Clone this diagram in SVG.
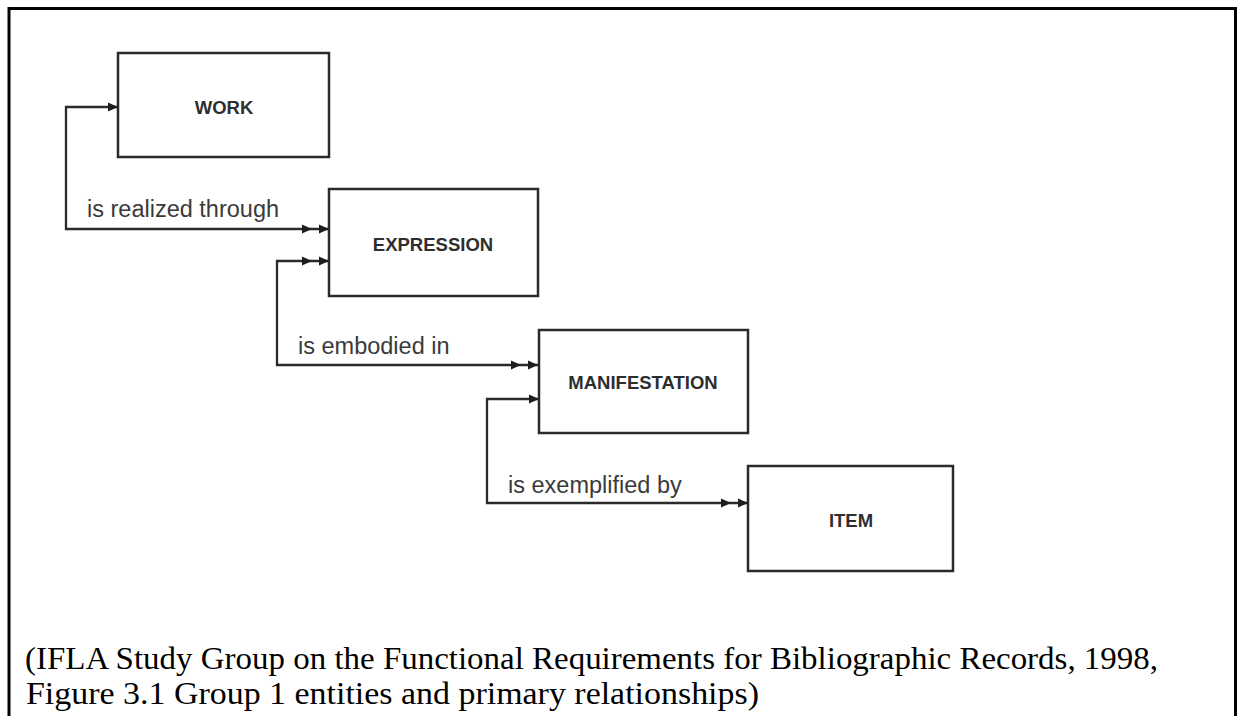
<svg xmlns="http://www.w3.org/2000/svg" xmlns:xlink="http://www.w3.org/1999/xlink" width="1237" height="716" viewBox="0 0 1237 716">
<style>
.box{fill:#fff;stroke:#2a2a2a;stroke-width:2.5}
.lbl{font-family:"Liberation Sans",Arial,sans-serif;font-weight:bold;font-size:18.5px;fill:#2e2e2e;text-anchor:middle;dominant-baseline:central}
.rel{font-family:"Liberation Sans",Arial,sans-serif;font-size:23.5px;fill:#3a3a3a}
.conn{fill:none;stroke:#2a2a2a;stroke-width:2.3}
.cap{font-family:"Liberation Serif","Times New Roman",serif;font-size:32px;fill:#000}
</style>
<defs>
<path id="ah" d="M0,0 L-10,-4.5 L-10,4.5 Z" fill="#1e1e1e"/>
</defs>
<rect width="1237" height="716" fill="#fff"/>
<path d="M9,716 V8.5 H1235.5 V716" fill="none" stroke="#000" stroke-width="3"/>
<g id="connectors">
<path class="conn" d="M118,107 H66 V229 H329"/>
<path class="conn" d="M329,261 H277 V365 H538"/>
<path class="conn" d="M539,399 H487 V503 H748"/>
<use xlink:href="#ah" x="118" y="107"/>
<use xlink:href="#ah" x="329" y="229"/>
<use xlink:href="#ah" x="312" y="229"/>
<use xlink:href="#ah" x="329" y="261"/>
<use xlink:href="#ah" x="312" y="261"/>
<use xlink:href="#ah" x="538" y="365"/>
<use xlink:href="#ah" x="521" y="365"/>
<use xlink:href="#ah" x="539" y="399"/>
<use xlink:href="#ah" x="748" y="503"/>
<use xlink:href="#ah" x="731" y="503"/>
<text class="rel" x="87" y="217">is realized through</text>
<text class="rel" x="298" y="354">is embodied in</text>
<text class="rel" x="508" y="493">is exemplified by</text>
</g>
<g id="work"><rect class="box" x="118" y="53" width="211" height="104"/><text class="lbl" x="224" y="107">WORK</text></g>
<g id="expression"><rect class="box" x="329" y="189" width="209" height="107"/><text class="lbl" x="433" y="244">EXPRESSION</text></g>
<g id="manifestation"><rect class="box" x="539" y="330" width="209" height="103"/><text class="lbl" x="643" y="382">MANIFESTATION</text></g>
<g id="item"><rect class="box" x="748" y="466" width="205" height="105"/><text class="lbl" x="851" y="520">ITEM</text></g>
<g id="caption">
<text class="cap" x="25" y="669" textLength="1133" lengthAdjust="spacingAndGlyphs">(IFLA Study Group on the Functional Requirements for Bibliographic Records, 1998,</text>
<text class="cap" x="26" y="704" textLength="733" lengthAdjust="spacingAndGlyphs">Figure 3.1 Group 1 entities and primary relationships)</text>
</g>
</svg>
